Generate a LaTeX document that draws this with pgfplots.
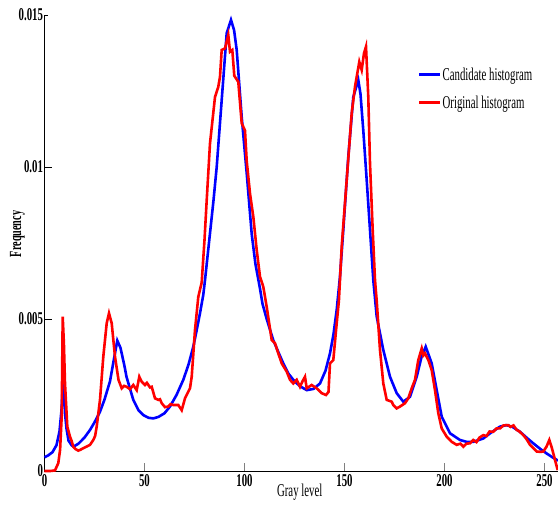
\documentclass[border=0pt]{standalone}
\usepackage{pgfplots}
\pgfplotsset{compat=1.18}
\usepackage{fontspec}
\setmainfont{Liberation Serif}[FakeStretch=0.6]
\begin{document}
\begin{tikzpicture}
\useasboundingbox (-44.5pt,-36pt) rectangle (513.5pt,471pt);
\begin{axis}[
  scale only axis,
  width=513.5pt, height=456pt,
  xmin=0, xmax=256.75, ymin=0, ymax=15,
  clip=false,
  axis x line*=bottom, axis y line*=left,
  axis line style={black, line width=0.8pt},
  xtick={0,50,100,150,200,250},
  xticklabels={0,50,100,150,200,250},
  ytick={0,5,10,15},
  yticklabels={0,0.005,0.01,0.015},
  tick align=inside,
  major tick length=8pt,
  x tick style={gray, line width=1pt},
  y tick style={black, line width=0.8pt, shorten >=4pt},
  tick label style={font=\fontsize{18}{20}\selectfont\bfseries},
  yticklabel style={xshift=2pt},
  xticklabel style={yshift=0pt},
  xlabel={Gray level},
  ylabel={Frequency},
  xlabel style={at={(axis description cs:0.497,-0.046)}, anchor=center, font=\fontsize{18}{20}\selectfont},
  ylabel style={at={(axis description cs:-0.0526,0.52)}, anchor=center, rotate=0, font=\fontsize{17}{20}\selectfont\bfseries},
  legend style={at={(axis description cs:0.727,0.887)}, anchor=north west, draw=none, fill=none,
    font=\fontsize{18}{20}\selectfont, row sep=12pt, inner sep=0pt,
    nodes={inner sep=1pt}},
  legend cell align=left,
  legend image code/.code={\draw[#1] (0pt,0pt) -- (21pt,0pt);},
]
\addplot[blue, line width=2.6pt] coordinates {
(0,0.45) (2,0.52) (4,0.62) (6,0.85) (7.5,1.3) (8.5,2.0) (9.4,3.16) (10.25,1.9) (11,1.4) (12,1.0) (13.5,0.85) (14.5,0.8)
(17,0.9) (20,1.1) (22.75,1.35) (25,1.6) (27.75,1.95) (30,2.35) (32.75,2.95) (34.5,3.6) (36.4,4.29) (38,4.05)
(40,3.45) (41,3.1) (43,2.65) (44.4,2.34) (47,2.0) (49.4,1.84) (52,1.75) (54.4,1.73) (57,1.78) (60,1.9)
(62.75,2.12) (66,2.5) (69.4,3.0) (72,3.5) (74.4,4.09) (76,4.6) (77.75,5.19) (79.4,5.8) (80.25,6.28)
(82.75,7.82) (84.5,8.9) (86.1,10.0) (88.6,12.2) (91.1,14.4) (93.25,14.84) (94.8,14.5) (96.1,13.85)
(98.6,11.65) (101.1,9.8) (103.6,7.8) (105.5,6.8) (107.75,6.0) (109,5.5) (111.1,5.0) (114.4,4.3) (117,3.9)
(119.4,3.54) (122,3.2) (124.4,3.0) (127.5,2.8) (131.1,2.66) (134.5,2.7) (137.75,2.88) (140.5,3.3)
(142.75,3.87) (144.5,4.5) (146.1,5.3) (147.75,6.4) (149.4,7.93) (151.9,10.34) (154.4,12.3) (156.9,12.86)
(158,12.4) (159.4,11.2) (161.1,9.57) (162.75,7.93) (164.4,6.28) (166.1,5.08) (169.4,3.98) (172.75,3.1)
(176.1,2.56) (179.4,2.28) (182.75,2.44) (186.1,3.1) (188.5,3.75) (190.6,4.09) (193.6,3.54) (196.1,2.66)
(198.6,1.79) (202.75,1.24) (207.75,1.02) (211,0.96) (214.4,0.96) (219.4,1.07) (223,1.25) (227.75,1.46)
(231,1.51) (234,1.45) (237.75,1.29) (241,1.1) (244.4,0.91) (248,0.72) (251,0.58) (254,0.45) (256.75,0.34)
};
\addlegendentry{Candidate histogram}
\addplot[red, line width=2.6pt] coordinates {
(0,0) (3,0) (5.25,0.02) (6.9,0.26) (7.8,0.7) (8.6,1.8) (9.1,5.08) (9.7,4.2) (10.25,2.88) (11.4,1.46)
(12.75,1.13) (13.5,1.0) (14.4,0.8) (15.5,0.72) (16.9,0.67) (18,0.7) (19.4,0.75) (21,0.8) (22.75,0.86)
(24.4,1.02) (25.3,1.15) (26.1,1.46) (27.75,2.34) (29.4,3.76) (31.1,4.86) (32.25,5.19) (33.6,4.86)
(35.25,3.76) (37,3.0) (38.6,2.72) (39.8,2.8) (41.1,2.77) (42.75,2.69) (44.4,2.83) (46.1,2.66) (47.4,3.1)
(48.6,2.94) (50.25,2.83) (51.2,2.9) (52.75,2.75) (53.6,2.77) (55.25,2.39) (56.9,2.34) (57.75,2.36)
(58.6,2.23) (60.25,2.1) (61.9,2.12) (63,2.2) (64.4,2.17) (66.9,2.17) (68.6,2.0) (70.25,2.39) (72.75,2.72)
(73.6,3.1) (75.25,4.64) (76.9,5.73) (78.6,6.2) (80,7.6) (81.1,8.9) (82.75,10.78) (85.25,12.3) (86.9,12.64)
(87.75,12.97) (88.6,13.85) (90.25,13.9) (91.9,14.34) (92.75,13.79) (93.9,13.85) (94.9,13.0) (96.9,12.8)
(98.6,11.44) (100.25,11.2) (101.1,10.2) (102.75,9.13) (104.4,8.37) (106.1,7.27) (107.75,6.39) (109.4,6.06)
(111.1,5.4) (113.6,4.31) (115.25,4.2) (116.9,3.87) (118.6,3.54) (121.1,3.27) (122.75,3.0) (124.4,2.88)
(126.1,3.0) (127.75,2.77) (129,2.95) (130.25,3.1) (131.1,2.72) (133.6,2.83) (136.1,2.72) (138.6,2.56)
(140.75,2.5) (142,2.6) (142.75,3.54) (144.4,3.65) (146.1,4.86) (147.2,5.6) (148.6,7.38) (151.1,9.57)
(153.6,11.77) (155.25,12.64) (157.4,13.46) (158.6,13.19) (159.75,13.74) (160.75,13.96) (161.9,12.3)
(162.75,10.12) (164.1,7.93) (165.25,6.28) (166.1,5.6) (167.75,3.98) (169.4,2.88) (171.1,2.34) (173.6,2.28)
(174.4,2.17) (176.1,2.06) (177.75,2.12) (180.25,2.23) (181.9,2.39) (183.6,2.72) (185.25,3.0) (186.9,3.65)
(188.6,4.03) (189.4,3.8) (190.25,3.87) (191.9,3.65) (193.6,3.32) (195.25,2.66) (196.9,1.9) (198.6,1.4)
(201.1,1.13) (203.6,0.96) (206.1,0.86) (208,0.9) (209.4,0.8) (211,0.9) (212.75,0.91) (214.4,1.02) (216,0.95)
(217.5,1.1) (219.4,1.18) (221,1.15) (222.5,1.3) (224.4,1.29) (226,1.4) (227.75,1.4) (229.5,1.5) (231.9,1.51)
(233,1.45) (234.5,1.5) (236.1,1.35) (237.5,1.3) (239.4,1.18) (241,1.05) (242.75,0.86) (244.5,0.75)
(246.1,0.64) (248,0.63) (249.4,0.64) (251,0.8) (252.4,1.02) (253.5,0.8) (254.4,0.58) (255.5,0.3) (256.6,0.03)
};
\addlegendentry{Original histogram}
\end{axis}
\end{tikzpicture}
\end{document}
